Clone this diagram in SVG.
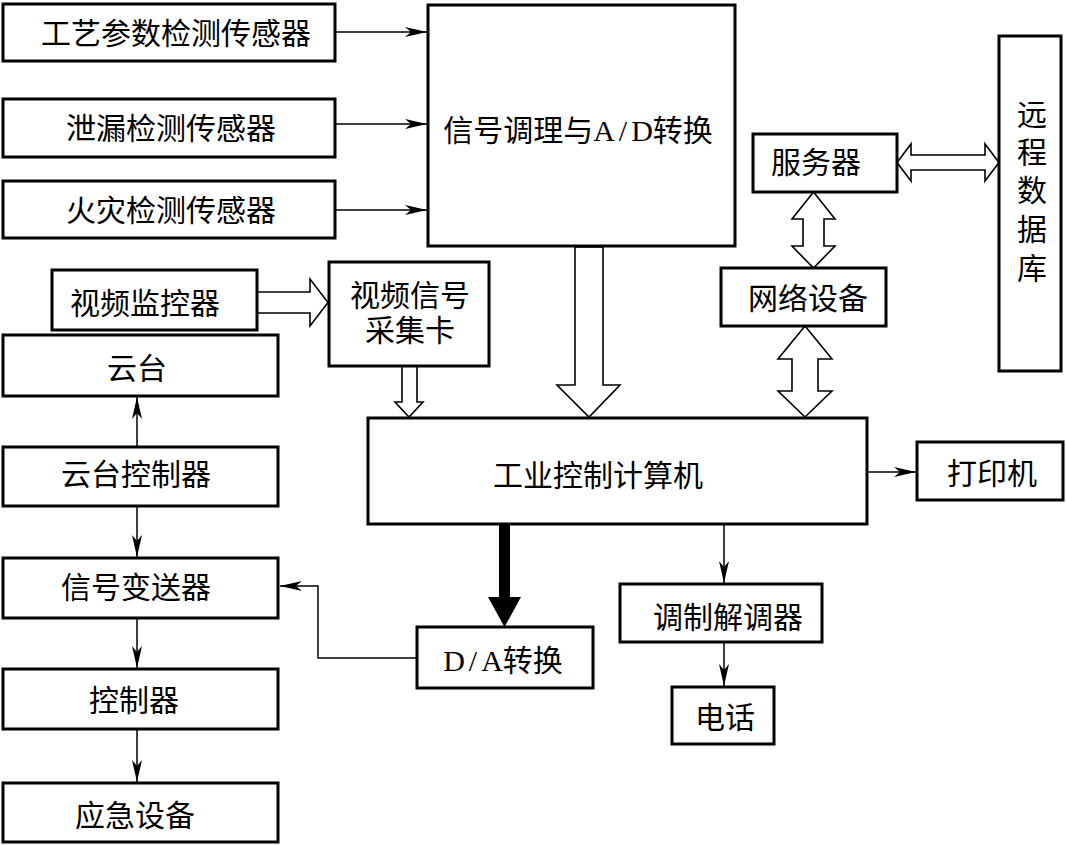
<svg xmlns="http://www.w3.org/2000/svg" width="1066" height="845" viewBox="0 0 1066 845">
<style>
.box{fill:#fff;stroke:#000;stroke-width:3}
.t{font-family:"Liberation Serif","Noto Sans CJK SC",serif;font-size:30px;text-anchor:middle;fill:#000}
.ln{fill:none;stroke:#000;stroke-width:1.5}
.hol{fill:#fff;stroke:#000;stroke-width:1.6;stroke-linejoin:miter}
</style>
<defs>
<marker id="ah" markerUnits="userSpaceOnUse" markerWidth="24" markerHeight="12" refX="22" refY="5" orient="auto">
<path d="M0,0 L22,5 L0,10 L6,5 z" fill="#000"/>
</marker>
</defs>
<rect width="1066" height="845" fill="#fff"/>
<g id="connectors">
<line class="ln" x1="335" y1="32" x2="427" y2="32" marker-end="url(#ah)"/>
<line class="ln" x1="335" y1="124" x2="427" y2="124" marker-end="url(#ah)"/>
<line class="ln" x1="335" y1="210" x2="427" y2="210" marker-end="url(#ah)"/>
<line class="ln" x1="137" y1="447" x2="137" y2="397" marker-end="url(#ah)"/>
<line class="ln" x1="137" y1="506" x2="137" y2="557" marker-end="url(#ah)"/>
<line class="ln" x1="137" y1="618" x2="137" y2="668" marker-end="url(#ah)"/>
<line class="ln" x1="137" y1="729" x2="137" y2="782" marker-end="url(#ah)"/>
<polyline class="ln" points="417,658 318,658 318,586 280,586" marker-end="url(#ah)"/>
<line class="ln" x1="724" y1="524" x2="724" y2="583" marker-end="url(#ah)"/>
<line class="ln" x1="724" y1="642" x2="724" y2="686" marker-end="url(#ah)"/>
<line class="ln" x1="867" y1="472" x2="916" y2="472" marker-end="url(#ah)"/>
<polygon class="hol" points="257,292 310,292 310,279 328,302.5 310,326 310,313 257,313"/>
<polygon class="hol" points="402,366 417,366 417,402 423,402 409,417 395,402 402,402"/>
<polygon class="hol" points="575,247 603,247 603,385 620,385 589,417 557,385 575,385"/>
<polygon class="hol" points="897,162.5 911,144 911,155 985,155 985,144 999,162.5 985,181 985,170 911,170 911,181"/>
<polygon class="hol" points="813.5,192 835,219 824,219 824,246 835,246 813.5,268 792,246 803,246 803,219 792,219"/>
<polygon class="hol" points="805,326 832,359 818,359 818,391 832,391 805,417 778,391 792,391 792,359 778,359"/>
<rect x="499" y="524" width="11" height="74" fill="#000"/>
<polygon points="488,597 521,597 504.5,627" fill="#000"/>
</g>
<g id="n_gycs"><rect class="box" x="3" y="4" width="332" height="57"/><text class="t" x="176" y="44">工艺参数检测传感器</text></g>
<g id="n_xl"><rect class="box" x="3" y="99" width="332" height="58"/><text class="t" x="171" y="139">泄漏检测传感器</text></g>
<g id="n_hz"><rect class="box" x="3" y="181" width="332" height="57"/><text class="t" x="171" y="221">火灾检测传感器</text></g>
<g id="n_sig"><rect class="box" x="428" y="5" width="307" height="241"/><text class="t" x="578" y="141">信号调理与A<tspan dx="4">/</tspan><tspan dx="4">D</tspan>转换</text></g>
<g id="n_spjk"><rect class="box" x="52" y="270" width="205" height="60"/><text class="t" x="145" y="314">视频监控器</text></g>
<g id="n_yt"><rect class="box" x="3" y="335" width="275" height="61"/><text class="t" x="137" y="379">云台</text></g>
<g id="n_cjk"><rect class="box" x="329" y="262" width="160" height="104"/><text class="t" x="410" y="306">视频信号</text><text class="t" x="410" y="341">采集卡</text></g>
<g id="n_fwq"><rect class="box" x="753" y="134" width="144" height="58"/><text class="t" x="816" y="173">服务器</text></g>
<g id="n_wl"><rect class="box" x="721" y="268" width="165" height="58"/><text class="t" x="808" y="309">网络设备</text></g>
<g id="n_yc"><rect class="box" x="999" y="36" width="62" height="335"/>
<text class="t" x="1032" y="125">远</text><text class="t" x="1032" y="163">程</text><text class="t" x="1032" y="201">数</text><text class="t" x="1032" y="240">据</text><text class="t" x="1032" y="279">库</text></g>
<g id="n_pc"><rect class="box" x="368" y="418" width="499" height="106"/><text class="t" x="598" y="486">工业控制计算机</text></g>
<g id="n_dyj"><rect class="box" x="917" y="442" width="146" height="58"/><text class="t" x="992" y="484">打印机</text></g>
<g id="n_modem"><rect class="box" x="620" y="584" width="202" height="58"/><text class="t" x="728" y="628">调制解调器</text></g>
<g id="n_dh"><rect class="box" x="672" y="687" width="102" height="57"/><text class="t" x="725" y="728">电话</text></g>
<g id="n_da"><rect class="box" x="417" y="627" width="176" height="61"/><text class="t" x="503" y="671">D<tspan dx="4">/</tspan><tspan dx="4">A</tspan>转换</text></g>
<g id="n_ytkz"><rect class="box" x="3" y="447" width="275" height="59"/><text class="t" x="136" y="485">云台控制器</text></g>
<g id="n_xhbs"><rect class="box" x="3" y="558" width="275" height="60"/><text class="t" x="136" y="598">信号变送器</text></g>
<g id="n_kzq"><rect class="box" x="3" y="669" width="275" height="60"/><text class="t" x="134" y="711">控制器</text></g>
<g id="n_yj"><rect class="box" x="3" y="783" width="275" height="59"/><text class="t" x="135" y="826">应急设备</text></g>
</svg>
